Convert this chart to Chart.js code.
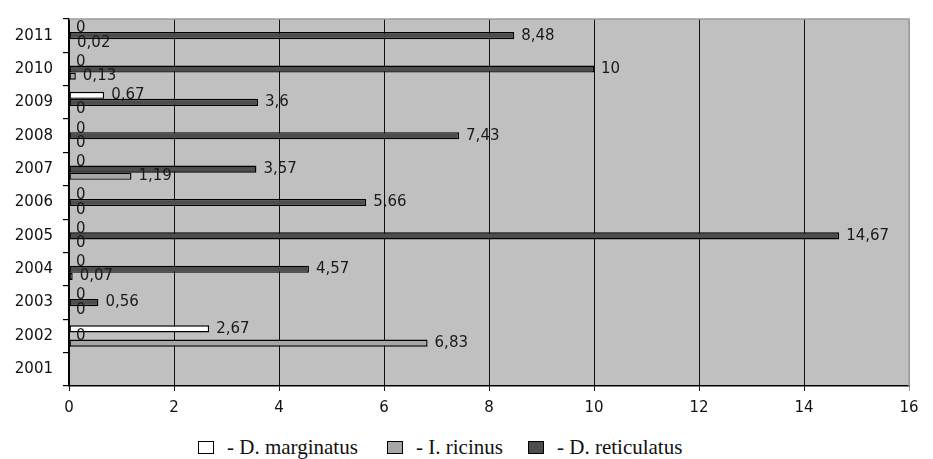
<!DOCTYPE html>
<html>
<head>
<meta charset="utf-8">
<script src="https://cdn.jsdelivr.net/npm/chart.js@4/dist/chart.umd.min.js"></script>
<style>
  html, body { margin: 0; padding: 0; background: #fff; }
  #wrap { position: relative; width: 933px; height: 459px; }
  #c { position: absolute; left: 0; top: 0; }
  .item { position: absolute; top: 435px; height: 24px; display: flex; align-items: center;
          font-family: "Liberation Serif", "Times New Roman", serif; font-size: 21px; color: #111; white-space: nowrap; }
  .box { flex: 0 0 auto; display: inline-block; width: 16px; height: 13px; border: 1px solid #000;
         box-sizing: border-box; margin-right: 13px; }
</style>
</head>
<body>
<div id="wrap">
  <canvas id="c" width="933" height="425"></canvas>
  <div id="legend"></div>
</div>
<script>
// Years, bottom (2001) to top (2011)
const years = ['2001', '2002', '2003', '2004', '2005', '2006', '2007', '2008', '2009', '2010', '2011'];

// Values per species and year (no data for 2001)
const marginatus  = [null, 2.67, 0,    0,    0,     0,    0,    0,    0.67, 0,    0];
const reticulatus = [null, 0,    0.56, 4.57, 14.67, 5.66, 3.57, 7.43, 3.6,  10,   8.48];
const ricinus     = [null, 6.83, 0,    0.07, 0,     0,    1.19, 0,    0,    0.13, 0.02];

const xTicks = { min: 0, max: 16, step: 2 };

const legendItems = [
  { text: '- D. marginatus',  color: '#ffffff', left: 198 },
  { text: '- I. ricinus',     color: '#a6a6a6', left: 387 },
  { text: '- D. reticulatus', color: '#4d4d4d', left: 528 }
];

const tickFont = { family: '"DejaVu Sans", "Liberation Sans", sans-serif', size: 15 };

// Grey plot background plus light frame on top and right
const plotFrame = {
  id: 'plotFrame',
  beforeDraw(chart) {
    const { ctx, chartArea: a } = chart;
    ctx.save();
    ctx.fillStyle = '#c0c0c0';
    ctx.fillRect(a.left, a.top, a.right - a.left, a.bottom - a.top);
    ctx.restore();
  },
  beforeDatasetsDraw(chart) {
    const { ctx, chartArea: a } = chart;
    ctx.save();
    ctx.strokeStyle = '#9c9c9c';
    ctx.lineWidth = 1.5;
    ctx.beginPath();
    ctx.moveTo(a.left, a.top);
    ctx.lineTo(a.right, a.top);
    ctx.lineTo(a.right, a.bottom);
    ctx.stroke();
    ctx.restore();
  }
};

// Value written just past the end of each bar, with a decimal comma
const valueLabels = {
  id: 'valueLabels',
  afterDatasetsDraw(chart) {
    const ctx = chart.ctx;
    ctx.save();
    ctx.font = '15px "DejaVu Sans", "Liberation Sans", sans-serif';
    ctx.fillStyle = '#1a1a1a';
    ctx.textBaseline = 'middle';
    ctx.textAlign = 'left';
    chart.data.datasets.forEach((ds, di) => {
      const meta = chart.getDatasetMeta(di);
      meta.data.forEach((bar, i) => {
        const v = ds.data[i];
        if (v === null || v === undefined) return;
        ctx.fillText(String(v).replace('.', ','), bar.x + 7, bar.y);
      });
    });
    ctx.restore();
  }
};

const barStyle = { borderColor: '#000', borderWidth: 1.4, borderSkipped: false,
                   categoryPercentage: 0.64, barPercentage: 1.0 };

new Chart(document.getElementById('c'), {
  type: 'bar',
  data: {
    labels: years,
    datasets: [
      Object.assign({ label: 'D. marginatus',  data: marginatus,  backgroundColor: '#ffffff' }, barStyle),
      Object.assign({ label: 'D. reticulatus', data: reticulatus, backgroundColor: '#4d4d4d' }, barStyle),
      Object.assign({ label: 'I. ricinus',     data: ricinus,     backgroundColor: '#a6a6a6' }, barStyle)
    ]
  },
  options: {
    indexAxis: 'y',
    responsive: false,
    animation: false,
    devicePixelRatio: 1,
    layout: { padding: { top: 4, right: 24, left: 0, bottom: 0 } },
    plugins: { legend: { display: false }, tooltip: { enabled: false } },
    scales: {
      x: {
        min: xTicks.min, max: xTicks.max,
        ticks: { stepSize: xTicks.step, color: '#111', font: tickFont, padding: 8 },
        grid: {
          color: c => (c.tick && c.tick.value === xTicks.max) ? '#9c9c9c' : '#111',
          lineWidth: 1, tickLength: 5
        },
        border: { color: '#000', width: 1.5 },
        afterFit(s) { s.height = 39; }
      },
      y: {
        reverse: true,
        ticks: { color: '#111', font: tickFont, padding: 10 },
        grid: { drawOnChartArea: false, tickLength: 6, color: '#000', lineWidth: 1.2 },
        border: { color: '#000', width: 1.5 },
        afterFit(s) { s.width = 69; }
      }
    }
  },
  plugins: [plotFrame, valueLabels]
});

// Legend row below the plot
const legend = document.getElementById('legend');
legendItems.forEach(it => {
  const d = document.createElement('div');
  d.className = 'item';
  d.style.left = it.left + 'px';
  const b = document.createElement('span');
  b.className = 'box';
  b.style.background = it.color;
  const t = document.createElement('span');
  t.textContent = it.text;
  d.appendChild(b);
  d.appendChild(t);
  legend.appendChild(d);
});
</script>
</body>
</html>
